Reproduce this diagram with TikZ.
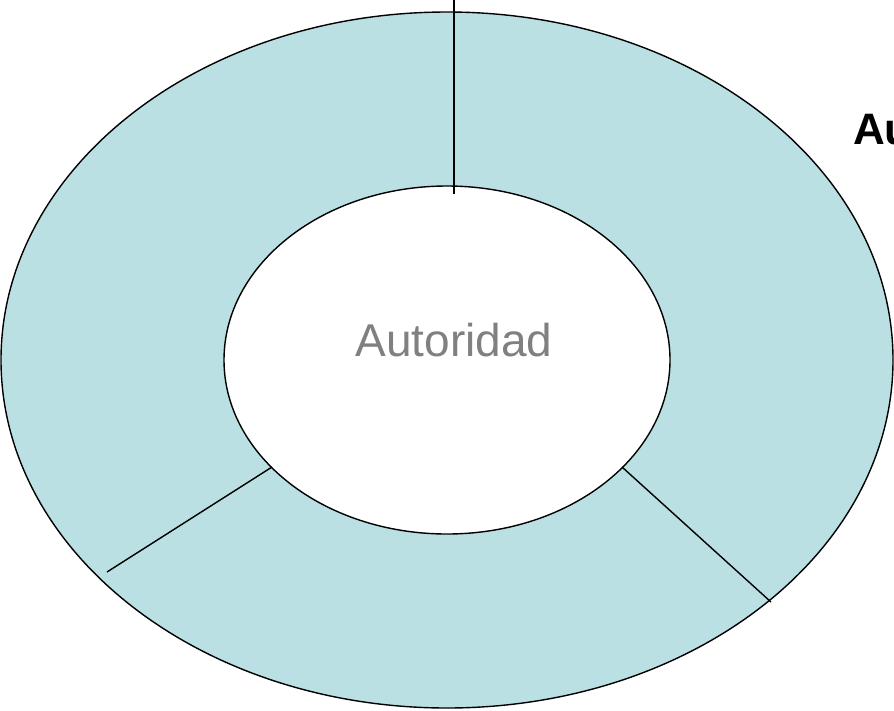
\documentclass[tikz,border=0pt]{standalone}
\usepackage{fontspec}
\setmainfont{Liberation Sans}
\definecolor{ringfill}{RGB}{187,224,227}
\definecolor{labgray}{RGB}{128,128,128}
\begin{document}
\begin{tikzpicture}[x=1pt,y=-1pt,
  ringline/.style={draw=black,line width=1.4pt},
  divider/.style={draw=black,line width=1.4pt}]
\useasboundingbox (0,0) rectangle (894,710);
\clip (0,0) rectangle (894,710);
\fill[ringfill] (447,360) ellipse [x radius=446,y radius=348];
\draw[ringline] (447,360) ellipse [x radius=446,y radius=348];
\filldraw[fill=white,draw=black,line width=1.4pt] (447,360) ellipse [x radius=223,y radius=174];
\coordinate (t0) at (454,0);
\coordinate (t1) at (454,194);
\coordinate (l0) at (272,467);
\coordinate (l1) at (107,572);
\coordinate (r0) at (622,467);
\coordinate (r1) at (771,602);
\draw[divider] (t0) -- (t1);
\draw[divider] (l0) -- (l1);
\draw[divider] (r0) -- (r1);
\node[anchor=base,text=labgray,font=\fontsize{46}{54}\selectfont,inner sep=0pt] (aut) at (454,356) {Autoridad};
\node[anchor=base west,text=black,font=\fontsize{44}{52}\selectfont\bfseries,inner sep=0pt] (au) at (853,144) {Au};
\end{tikzpicture}
\end{document}
